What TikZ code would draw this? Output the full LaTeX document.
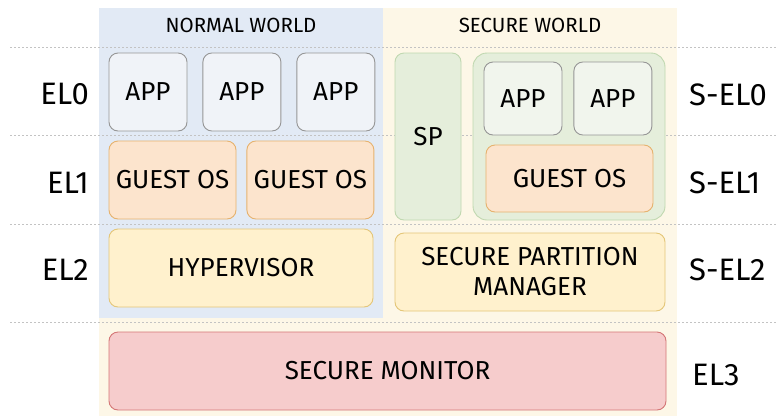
\documentclass[tikz,border=0pt]{standalone}
\usepackage{fontspec}
\setmainfont{Fira Sans}
\usetikzlibrary{positioning}

\definecolor{nwbg}{RGB}{226,234,245}
\definecolor{swbg}{RGB}{253,247,231}
\definecolor{appfill}{RGB}{240,243,248}
\definecolor{sappfill}{RGB}{241,245,237}
\definecolor{appline}{RGB}{150,150,150}
\definecolor{osfill}{RGB}{252,228,205}
\definecolor{osline}{RGB}{230,178,110}
\definecolor{hvfill}{RGB}{255,241,205}
\definecolor{hvline}{RGB}{228,198,120}
\definecolor{smfill}{RGB}{246,204,204}
\definecolor{smline}{RGB}{212,118,118}
\definecolor{spfill}{RGB}{229,238,219}
\definecolor{spline}{RGB}{192,216,176}
\definecolor{divline}{RGB}{195,195,195}

\tikzset{
  box/.style={draw, rounded corners=9pt, line width=0.9pt, align=center,
    inner sep=0pt, font=\fontsize{26}{30}\selectfont},
  app/.style={box, draw=appline, fill=appfill, minimum width=78pt, minimum height=78pt},
  guest/.style={box, draw=osline, fill=osfill, minimum height=78pt},
  hyp/.style={box, draw=hvline, fill=hvfill, minimum height=78pt},
  part/.style={box, draw=spline, fill=spfill},
  level/.style={font=\fontsize{31}{34}\selectfont, inner sep=0pt},
  world/.style={font=\fontsize{20.5}{24}\selectfont, inner sep=0pt},
  divider/.style={divline, line width=0.8pt, dash pattern=on 2pt off 2pt}
}

\begin{document}
\begin{tikzpicture}[x=1pt,y=-1pt]
  \useasboundingbox (0,0) rectangle (777,416);

  % worlds
  \fill[swbg] (99,8) rectangle (677,416);
  \fill[nwbg] (99,8) rectangle (383,318);
  \foreach \y in {47,135,224,322}
    \draw[divider] (10,\y) -- (777,\y);

  \node[world] (nw) at (241,25) {NORMAL WORLD};
  \node[world] (sw) at (530,25) {SECURE WORLD};

  % normal world
  \node[app] (a1) at (148,92) {APP};
  \node[app, right=15pt of a1] (a2) {APP};
  \node[app, right=15pt of a2] (a3) {APP};
  \node[guest, minimum width=127pt] (g1) at (172.5,180) {GUEST OS};
  \node[guest, minimum width=127pt, right=10pt of g1] (g2) {GUEST OS};
  \node[hyp, minimum width=264pt] (hv) at (241,268) {HYPERVISOR};

  % secure world
  \node[part, minimum width=66pt, minimum height=167pt] (sp) at (428,136.5) {SP};
  \node[part, minimum width=192pt, minimum height=167pt, rounded corners=14pt] (ct) at (569,136.5) {};
  \node[app, fill=sappfill, minimum height=73pt] (sa1) at (523,98.5) {APP};
  \node[app, fill=sappfill, minimum height=73pt, right=11pt of sa1] (sa2) {APP};
  \node[guest, minimum width=167pt, minimum height=67pt] (sg) at (569.5,178.5) {GUEST OS};
  \node[hyp, minimum width=270pt] (spm) at (530,272) {SECURE PARTITION\\MANAGER};

  \node[box, draw=smline, fill=smfill, minimum width=557pt, minimum height=78pt] (sm) at (387.5,371) {SECURE MONITOR};

  % levels
  \node[level, anchor=east] (el0) at (89,94) {EL0};
  \node[level, anchor=east] (el1) at (89,183) {EL1};
  \node[level, anchor=east] (el2) at (89,270) {EL2};
  \node[level, anchor=west] (sel0) at (689,95) {S-EL0};
  \node[level, anchor=west] (sel1) at (689,183) {S-EL1};
  \node[level, anchor=west] (sel2) at (689,270) {S-EL2};
  \node[level, anchor=west] (el3) at (692,375) {EL3};
\end{tikzpicture}
\end{document}
